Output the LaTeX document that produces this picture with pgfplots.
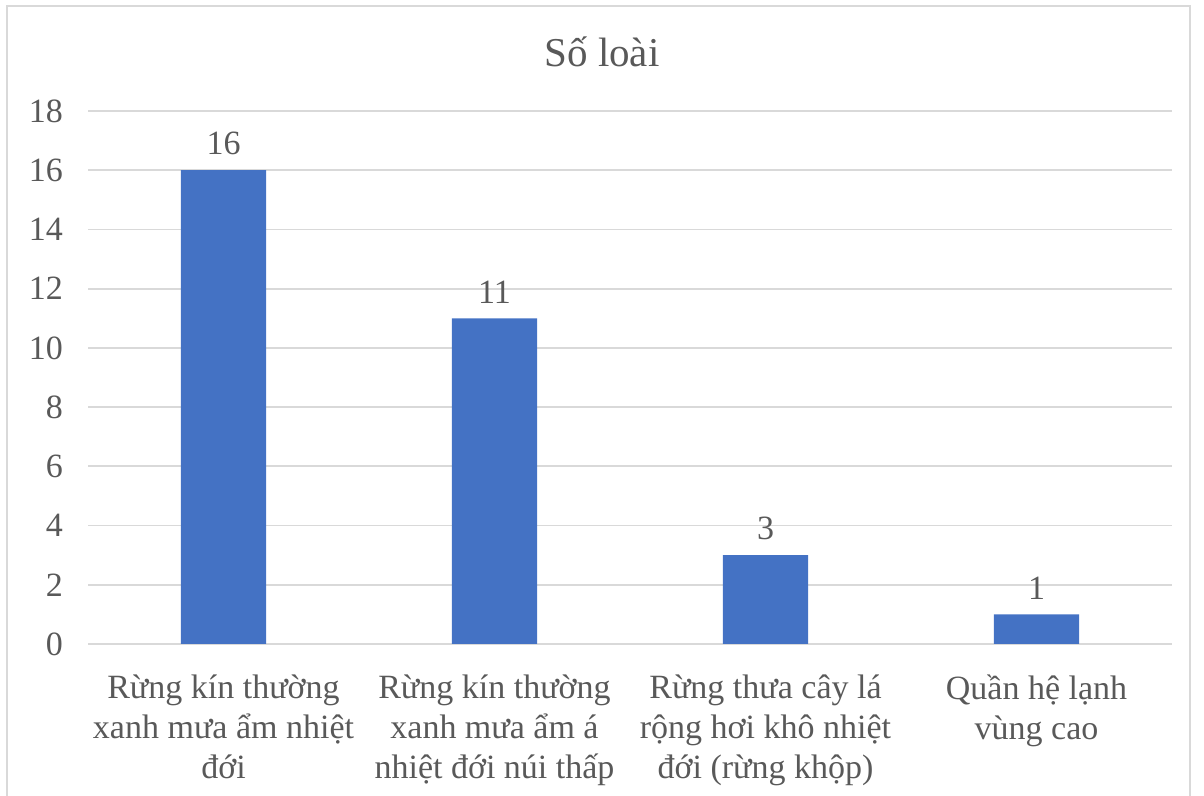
\documentclass[border=0pt]{standalone}
\usepackage{pgfplots}
\pgfplotsset{compat=1.18}
\usepackage{fontspec}
\setmainfont{Liberation Serif}

\definecolor{barblue}{HTML}{4472C4}
\definecolor{txtgray}{HTML}{595959}
\definecolor{gridgray}{HTML}{D9D9D9}
\definecolor{framegray}{HTML}{D9D9D9}

\begin{document}
\begin{tikzpicture}[x=1pt,y=1pt]
  \useasboundingbox (0,0) rectangle (602,398);
  % chart frame
  \draw[framegray, line width=0.75pt] (3.5,-10) rectangle (595,395);
  \node[font=\fontsize{20.5}{24}\selectfont, text=txtgray] at (301,372) {Số loài};
  \begin{axis}[
    at={(44pt,76pt)}, anchor=south west,
    scale only axis,
    width=542pt, height=266.5pt,
    xmin=-0.5, xmax=3.5,
    ymin=0, ymax=18,
    ytick={0,2,...,18},
    xtick=data,
    xticklabels={
      {Rừng kín thường\\xanh mưa ẩm nhiệt\\đới},
      {Rừng kín thường\\xanh mưa ẩm á\\nhiệt đới núi thấp},
      {Rừng thưa cây lá\\rộng hơi khô nhiệt\\đới (rừng khộp)},
      {Quần hệ lạnh\\vùng cao}},
    axis line style={draw=none},
    major tick length=0pt,
    ymajorgrids,
    grid style={gridgray, line width=0.9pt},
    /pgf/number format/assume math mode=true,
    yticklabel style={font=\fontsize{17}{20}\selectfont, text=txtgray, xshift=-9pt},
    xticklabel style={font=\fontsize{17}{20}\selectfont, text=txtgray, align=center, anchor=north, yshift=-12pt},
    ybar, bar width=0.314,
    nodes near coords,
    every node near coord/.append style={font=\fontsize{17}{20}\selectfont, text=txtgray, yshift=4pt},
  ]
    \addplot[fill=barblue, draw=none] coordinates {(0,16) (1,11) (2,3) (3,1)};
  \end{axis}
\end{tikzpicture}
\end{document}
